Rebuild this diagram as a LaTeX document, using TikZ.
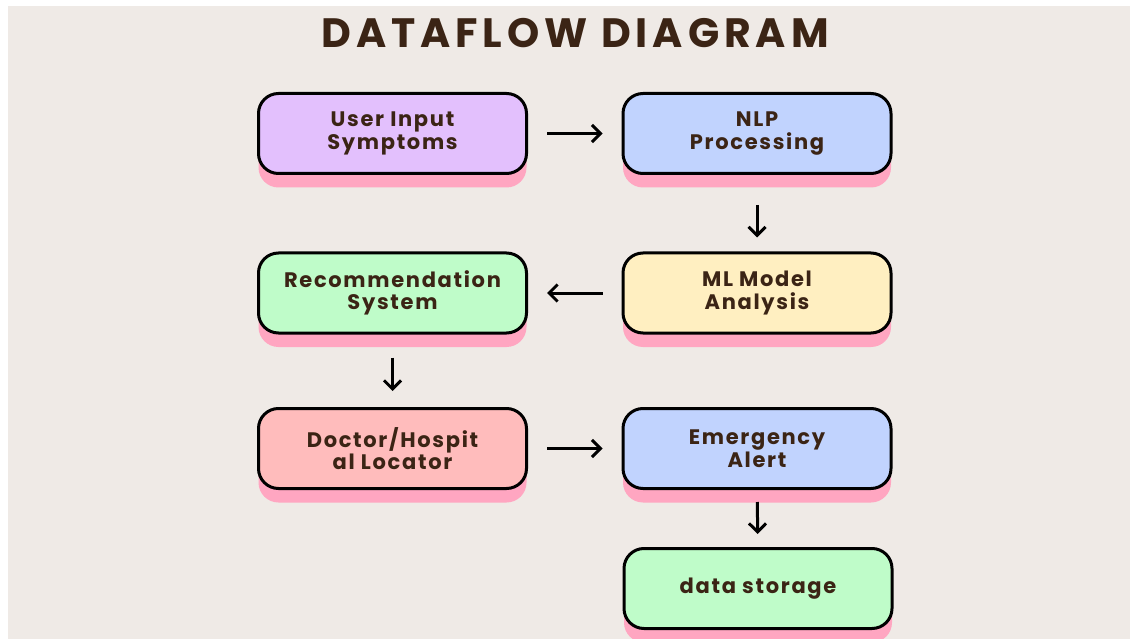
\documentclass[tikz,border=0pt]{standalone}
\usepackage{fontspec}
\setmainfont{Poppins}
\newfontfamily\titlefont[LetterSpace=12]{Poppins}
\newfontfamily\boxfont[LetterSpace=8]{Poppins}
\usetikzlibrary{arrows.meta,shadows}
\definecolor{bgcol}{HTML}{EFEAE6}
\definecolor{textbrown}{HTML}{3B2415}
\definecolor{shadowpink}{HTML}{FFA6C1}
\definecolor{boxpurple}{HTML}{E3C0FD}
\definecolor{boxblue}{HTML}{C1D3FE}
\definecolor{boxgreen}{HTML}{BFFCC9}
\definecolor{boxyellow}{HTML}{FFEFC1}
\definecolor{boxpink}{HTML}{FFBCBC}
\tikzset{
  flowbox/.style={draw=black, line width=3pt, rounded corners=20pt,
    minimum width=268pt, minimum height=80pt, align=center, text=textbrown,
    font=\boxfont\bfseries\fontsize{21}{22.5}\selectfont,
    drop shadow={shadow xshift=0pt, shadow yshift=-14pt, fill=shadowpink, opacity=1}},
  flowarrow/.style={-{Straight Barb[length=8.5pt,width=17pt]}, line width=3pt, draw=black}
}
\begin{document}
\begin{tikzpicture}[x=1pt,y=-1pt]
    \useasboundingbox (0,0) rectangle (1130,639);
    \fill[bgcol] (8,6) rectangle (1130,639);
    \node[anchor=base, text=textbrown, font=\titlefont\bfseries\fontsize{41}{44}\selectfont] (title) at (575,48) {DATAFLOW DIAGRAM};

    \node[flowbox, fill=boxpurple] (user) at (392.5,133.5) {User Input\\Symptoms};
    \node[flowbox, fill=boxblue] (nlp) at (757,133.5) {NLP\\Processing};
    \node[flowbox, fill=boxyellow] (ml) at (757,293) {ML Model\\Analysis};
    \node[flowbox, fill=boxgreen] (rec) at (392.5,293) {Recommendation\\System};
    \node[flowbox, fill=boxpink] (doctor) at (392.5,448.5) {Doctor/Hospit\\al Locator};
    \node[flowbox, fill=boxblue] (alert) at (757,448.5) {Emergency\\Alert};
    \node[flowbox, fill=boxgreen] (storage) at (758,588.5) {data storage};

    \draw[flowarrow, shorten <=19pt, shorten >=19pt] (user) -- (nlp);
    \draw[flowarrow, shorten <=30pt, shorten >=14pt] (nlp) -- (ml);
    \draw[flowarrow, shorten <=19pt, shorten >=19pt] (ml) -- (rec);
    \draw[flowarrow, shorten <=23pt, shorten >=16pt] (rec) -- (doctor);
    \draw[flowarrow, shorten <=19pt, shorten >=19pt] (doctor) -- (alert);
    \draw[flowarrow, shorten <=12pt, shorten >=13pt] (alert) -- (storage);
  \end{tikzpicture}
\end{document}
